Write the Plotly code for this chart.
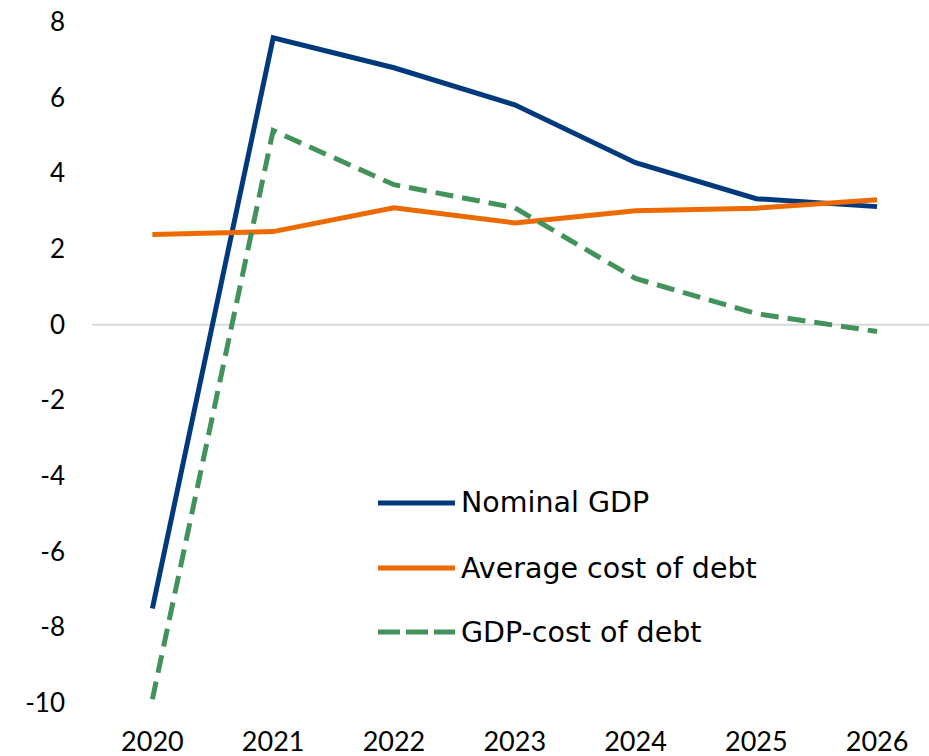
import plotly.graph_objects as go

years = ["2020", "2021", "2022", "2023", "2024", "2025", "2026"]
nominal_gdp = [-7.5, 7.58, 6.79, 5.81, 4.28, 3.33, 3.12]
avg_cost_debt = [2.38, 2.46, 3.09, 2.69, 3.01, 3.08, 3.30]
gdp_minus_cost = [-9.9, 5.13, 3.70, 3.09, 1.22, 0.29, -0.18]
y_ticks = [-10, -8, -6, -4, -2, 0, 2, 4, 6, 8]
y_tick_labels = [str(v) for v in y_ticks]  # plain hyphen minus like the reference

names = ["Nominal GDP", "Average cost of debt", "GDP-cost of debt"]
colors = ["#003A7D", "#ED6A00", "#43925C"]
dashes = ["solid", "solid", "18px,9px"]
series = [nominal_gdp, avg_cost_debt, gdp_minus_cost]

FONT = "Lato, 'DejaVu Sans', sans-serif"
LEG_FONT = "'DejaVu Sans', Lato, sans-serif"
W, H = 929, 756
L, R, T, B = 92, 0, 22, 53

fig = go.Figure()

# zero reference line across the full plot width
fig.add_shape(type="line", xref="paper", yref="y", x0=0, x1=1, y0=0, y1=0,
              layer="below", line=dict(color="#D9D9D9", width=2))

for n, c, d, s in zip(names, colors, dashes, series):
    fig.add_trace(go.Scatter(x=years, y=s, mode="lines", name=n,
                             line=dict(color=c, width=5, dash=d),
                             showlegend=False))

# manual legend (long line samples like the reference)
pw, ph = W - L - R, H - T - B
leg_rows = [503, 568, 632]
for n, c, d, py in zip(names, colors, ["solid", "solid", "22px,6px"], leg_rows):
    yp = (H - B - py) / ph
    x0 = (378 - L) / pw
    x1 = (455 - L) / pw
    fig.add_shape(type="line", xref="paper", yref="paper", x0=x0, x1=x1, y0=yp, y1=yp,
                  line=dict(color=c, width=5, dash=d))
    fig.add_annotation(xref="paper", yref="paper", x=(459 - L) / pw, y=yp, text=n,
                       showarrow=False, xanchor="left", yanchor="middle",
                       font=dict(family=LEG_FONT, size=28.5, color="#000000"))

fig.update_layout(
    width=W, height=H,
    margin=dict(l=L, r=R, t=T, b=B, pad=0),
    paper_bgcolor="white", plot_bgcolor="white",
    font=dict(family=FONT, size=26, color="#000000"),
    showlegend=False,
)
fig.update_xaxes(type="category", range=[-0.5, 6.43], showgrid=False, showline=False,
                 zeroline=False, ticks="", ticklabelstandoff=20,
                 tickfont=dict(family=FONT, size=27))
fig.update_yaxes(range=[-10, 8], tickvals=y_ticks, ticktext=y_tick_labels,
                 showgrid=False, showline=False, zeroline=False,
                 ticks="", ticklabelstandoff=26, tickfont=dict(family=FONT, size=26))

fig.write_html("out.html")
